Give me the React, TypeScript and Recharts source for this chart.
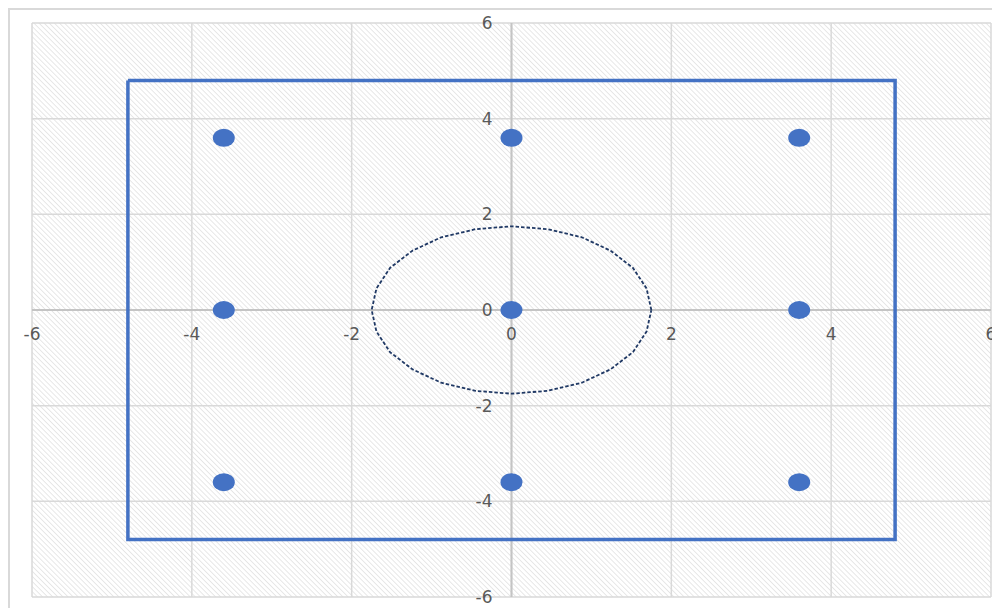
import { ScatterChart, Scatter, XAxis, YAxis, CartesianGrid, ReferenceLine } from 'recharts';

// tick values shared by both axes
const axisTicks = [-6, -4, -2, 0, 2, 4, 6];

// blue markers
const pointX = [-3.6, 0, 3.6, -3.6, 0, 3.6, -3.6, 0, 3.6];
const pointY = [3.6, 3.6, 3.6, 0, 0, 0, -3.6, -3.6, -3.6];

// square outline (closed)
const rectX = [-4.8, 4.8, 4.8, -4.8, -4.8];
const rectY = [4.8, 4.8, -4.8, -4.8, 4.8];

const ringX = [1.75, 1.69, 1.52, 1.24, 0.88, 0.45, 0, -0.45, -0.88, -1.24, -1.52, -1.69, -1.75, -1.69, -1.52, -1.24, -0.88, -0.45, 0, 0.45, 0.88, 1.24, 1.52, 1.69, 1.75];
const ringY = [0, 0.45, 0.88, 1.24, 1.52, 1.69, 1.75, 1.69, 1.52, 1.24, 0.88, 0.45, 0, -0.45, -0.88, -1.24, -1.52, -1.69, -1.75, -1.69, -1.52, -1.24, -0.88, -0.45, 0];

const zip = (xs: number[], ys: number[]) => xs.map((x, i) => ({ x, y: ys[i] }));

const points = zip(pointX, pointY);
const rect = zip(rectX, rectY);
const ring = zip(ringX, ringY);

const W = 990;
const H = 598;
const margin = { top: 13, right: 9, bottom: 10, left: 21 };
// where the zero lines fall inside the svg (axes reserve 1px each)
const zeroX = margin.left + 1 + (W - margin.left - 1 - margin.right) / 2;
const zeroY = margin.top + (H - margin.top - margin.bottom - 1) / 2;

const labelStyle = { fontFamily: '"DejaVu Sans", sans-serif', fontSize: 17, fill: '#595959' };

const XTick = (props: any) => (
  <text x={props.x} y={zeroY + 24} dy="0.36em" textAnchor="middle" {...labelStyle}>
    {props.payload.value}
  </text>
);

const YTick = (props: any) => (
  <text x={zeroX - 19} y={props.y} dy="0.36em" textAnchor="end" {...labelStyle}>
    {props.payload.value}
  </text>
);

const Dot = (props: any) => <ellipse cx={props.cx} cy={props.cy} rx={11} ry={9} fill="#4472C4" />;
const NoDot = () => <g />;

export default function App() {
  return (
    <div
      style={{
        width: 992,
        height: 600,
        boxSizing: 'border-box',
        borderLeft: '2px solid #d9d9d9',
        borderTop: '2px solid #d9d9d9',
        background: '#fff',
      }}
    >
      <style>{'body{overflow:hidden}'}</style>
      <svg width={0} height={0} style={{ position: 'absolute' }}>
        <defs>
          <pattern id="hatch" patternUnits="userSpaceOnUse" width={3.6} height={3.6} patternTransform="rotate(-45)">
            <rect width={3.6} height={3.6} fill="#ffffff" />
            <line x1={0} y1={0} x2={0} y2={3.6} stroke="#e2e2e2" strokeWidth={1.6} />
          </pattern>
        </defs>
      </svg>
      <ScatterChart width={W} height={H} margin={margin}>
        <CartesianGrid stroke="#d9d9d9" strokeWidth={1.5} fill="url(#hatch)" fillOpacity={1} />
        <XAxis
          type="number"
          dataKey="x"
          domain={[-6, 6]}
          ticks={axisTicks}
          interval={0}
          height={1}
          axisLine={false}
          tickLine={false}
          tick={<XTick />}
        />
        <YAxis
          type="number"
          dataKey="y"
          domain={[-6, 6]}
          ticks={axisTicks}
          interval={0}
          width={1}
          axisLine={false}
          tickLine={false}
          tick={<YTick />}
        />
        <ReferenceLine x={0} stroke="#c4c4c4" strokeWidth={2} />
        <ReferenceLine y={0} stroke="#c4c4c4" strokeWidth={2} />
        <Scatter
          data={rect}
          line={{ stroke: '#4472C4', strokeWidth: 3.5 }}
          lineType="joint"
          shape={NoDot}
          isAnimationActive={false}
        />
        <Scatter
          data={ring}
          line={{ stroke: '#1F3864', strokeWidth: 1.8, strokeDasharray: '3.5 2' }}
          lineType="joint"
          shape={NoDot}
          isAnimationActive={false}
        />
        <Scatter data={points} shape={Dot} isAnimationActive={false} />
      </ScatterChart>
    </div>
  );
}
